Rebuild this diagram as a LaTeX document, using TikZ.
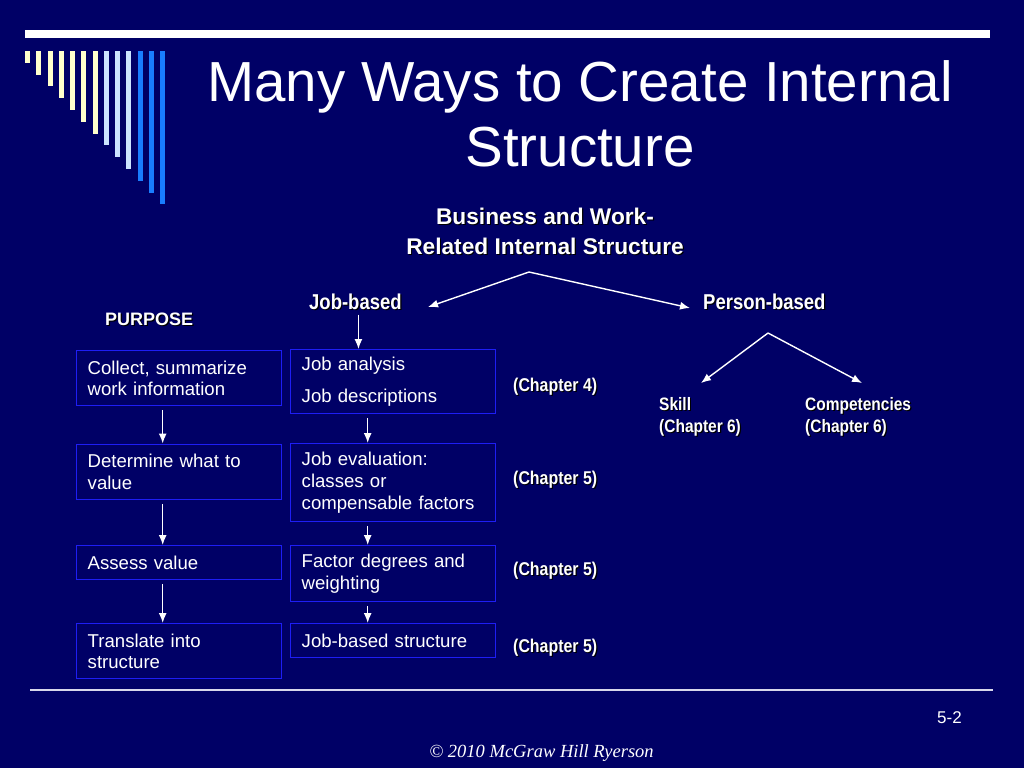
\documentclass[tikz,border=0pt]{standalone}
\usepackage{fontspec}
\setmainfont{Liberation Sans}
\newfontfamily\footfont{Liberation Serif}
\newfontfamily\narrowsans[FakeStretch=0.86]{Liberation Sans}
\usepackage{xcolor}
\usepackage{tikz}
\usetikzlibrary{arrows.meta}

\definecolor{slidebg}{RGB}{0,0,102}
\definecolor{boxblue}{RGB}{30,30,245}
\definecolor{barcream}{RGB}{255,255,204}
\definecolor{barpale}{RGB}{204,228,255}
\definecolor{barblue}{RGB}{25,125,255}
\definecolor{rulegray}{RGB}{215,215,235}

\newcommand{\shad}[1]{\rlap{\kern1.2pt\raisebox{-1.2pt}{\color{black}#1}}#1}
\newcommand{\boxfont}{\fontsize{18.6}{21.7}\selectfont}

\tikzset{
  stepbox/.style={draw=boxblue, line width=1.4pt, anchor=north west, minimum width=205,
    text width=183, inner xsep=11, inner ysep=2, align=left, font=\boxfont, text=white},
  lbl/.style={inner sep=0, text=white, font=\bfseries\fontsize{18.4}{22}\selectfont},
  chap/.style={anchor=west, inner sep=0, text=white, font=\narrowsans\bfseries\fontsize{18.5}{20}\selectfont},
  arr/.style={->, white, line width=1.4pt, shorten <=4pt}
}

\begin{document}
\begin{tikzpicture}[>={Latex[length=10pt,width=8pt]}, x=1pt, y=-1pt]
  \useasboundingbox (0,0) rectangle (1024,768);
  \fill[slidebg] (0,0) rectangle (1024,768);
  \fill[white] (25,30) rectangle (990,38);
  \foreach \i in {0,...,12}{
    \ifnum\i<7 \def\bc{barcream}\else\ifnum\i<10 \def\bc{barpale}\else\def\bc{barblue}\fi\fi
    \fill[\bc] ({25+11.25*\i},51) rectangle ({30+11.25*\i},{62.7+11.8*\i});
  }
  \node[text=white, font=\fontsize{56.5}{65}\selectfont, align=center] (title) at (580,114)
    {Many Ways to Create Internal\\Structure};
  \node[text=white, font=\bfseries\fontsize{22.7}{30}\selectfont, align=center] (heading) at (545,232)
    {\shad{Business and Work-}\\\shad{Related Internal Structure}};
  \node[lbl, anchor=base west, font=\narrowsans\bfseries\fontsize{21.5}{24}\selectfont] (jobbased) at (309,309) {\shad{Job-based}};
  \node[lbl, anchor=base west, font=\narrowsans\bfseries\fontsize{21.5}{24}\selectfont] (personbased) at (703,309) {\shad{Person-based}};
  \node[lbl, anchor=base west, font=\bfseries\fontsize{18}{22}\selectfont] (purpose) at (105,325) {\shad{PURPOSE}};
  \coordinate (jbapex) at (529,272);
  \coordinate (jbtip) at (428,307);
  \coordinate (pbtip) at (690,308);
  \draw[arr, shorten <=0pt] (jbapex) -- (jbtip);
  \draw[arr, shorten <=0pt] (jbapex) -- (pbtip);
  \node[stepbox, minimum height=55] (l1) at (76,350) {Collect, summarize\\work information};
  \node[stepbox, minimum height=55.5] (l2) at (76,443.5) {Determine what to\\value};
  \node[stepbox, minimum height=34] (l3) at (76,545) {Assess value};
  \node[stepbox, minimum height=55] (l4) at (76,623) {Translate into\\structure};
  \node[stepbox, minimum height=64] (r1) at (290,349) {Job analysis\\[10.5pt]Job descriptions};
  \node[stepbox, minimum height=78] (r2) at (290,443) {Job evaluation:\\classes or\\compensable factors};
  \node[stepbox, minimum height=56] (r3) at (290,545) {Factor degrees and\\weighting};
  \node[stepbox, minimum height=34] (r4) at (290,623) {Job-based structure};
  \draw[arr] ([xshift=3]jobbased.south) -- ([xshift=3]jobbased.south |- r1.north);
  \foreach \a/\b in {l1/l2,l2/l3,l3/l4}
    \draw[arr] ([xshift=-16.5]\a.south) -- ([xshift=-16.5]\b.north);
  \foreach \a/\b in {r1/r2,r2/r3,r3/r4}
    \draw[arr] ([xshift=-25.5]\a.south) -- ([xshift=-25.5]\b.north);
  \node[chap] (ch4) at (513,387) {\shad{(Chapter 4)}};
  \node[chap] (ch5a) at (513,480) {\shad{(Chapter 5)}};
  \node[chap] (ch5b) at (513,571) {\shad{(Chapter 5)}};
  \node[chap] (ch5c) at (513,648) {\shad{(Chapter 5)}};
  \coordinate (pbapex) at (768,333);
  \coordinate (skilltip) at (701,383);
  \coordinate (comptip) at (862,383);
  \draw[arr, shorten <=0pt] (pbapex) -- (skilltip);
  \draw[arr, shorten <=0pt] (pbapex) -- (comptip);
  \node[lbl, anchor=west, align=left, font=\narrowsans\bfseries\fontsize{18}{22}\selectfont] (skill) at (659,417)
    {\shad{Skill}\\\shad{(Chapter 6)}};
  \node[lbl, anchor=west, align=left, font=\narrowsans\bfseries\fontsize{18}{22}\selectfont] (comp) at (805,417)
    {\shad{Competencies}\\\shad{(Chapter 6)}};
  \draw[rulegray, line width=1.8pt] (30,690) -- (993,690);
  \node[anchor=base west, inner sep=0, text=white, font=\fontsize{17}{20}\selectfont] (pgnum) at (937,723) {5-2};
  \node[anchor=base, inner sep=0, text=white, font=\footfont\itshape\fontsize{18.5}{22}\selectfont] (copy) at (541.5,757)
    {© 2010 McGraw Hill Ryerson};
\end{tikzpicture}
\end{document}
